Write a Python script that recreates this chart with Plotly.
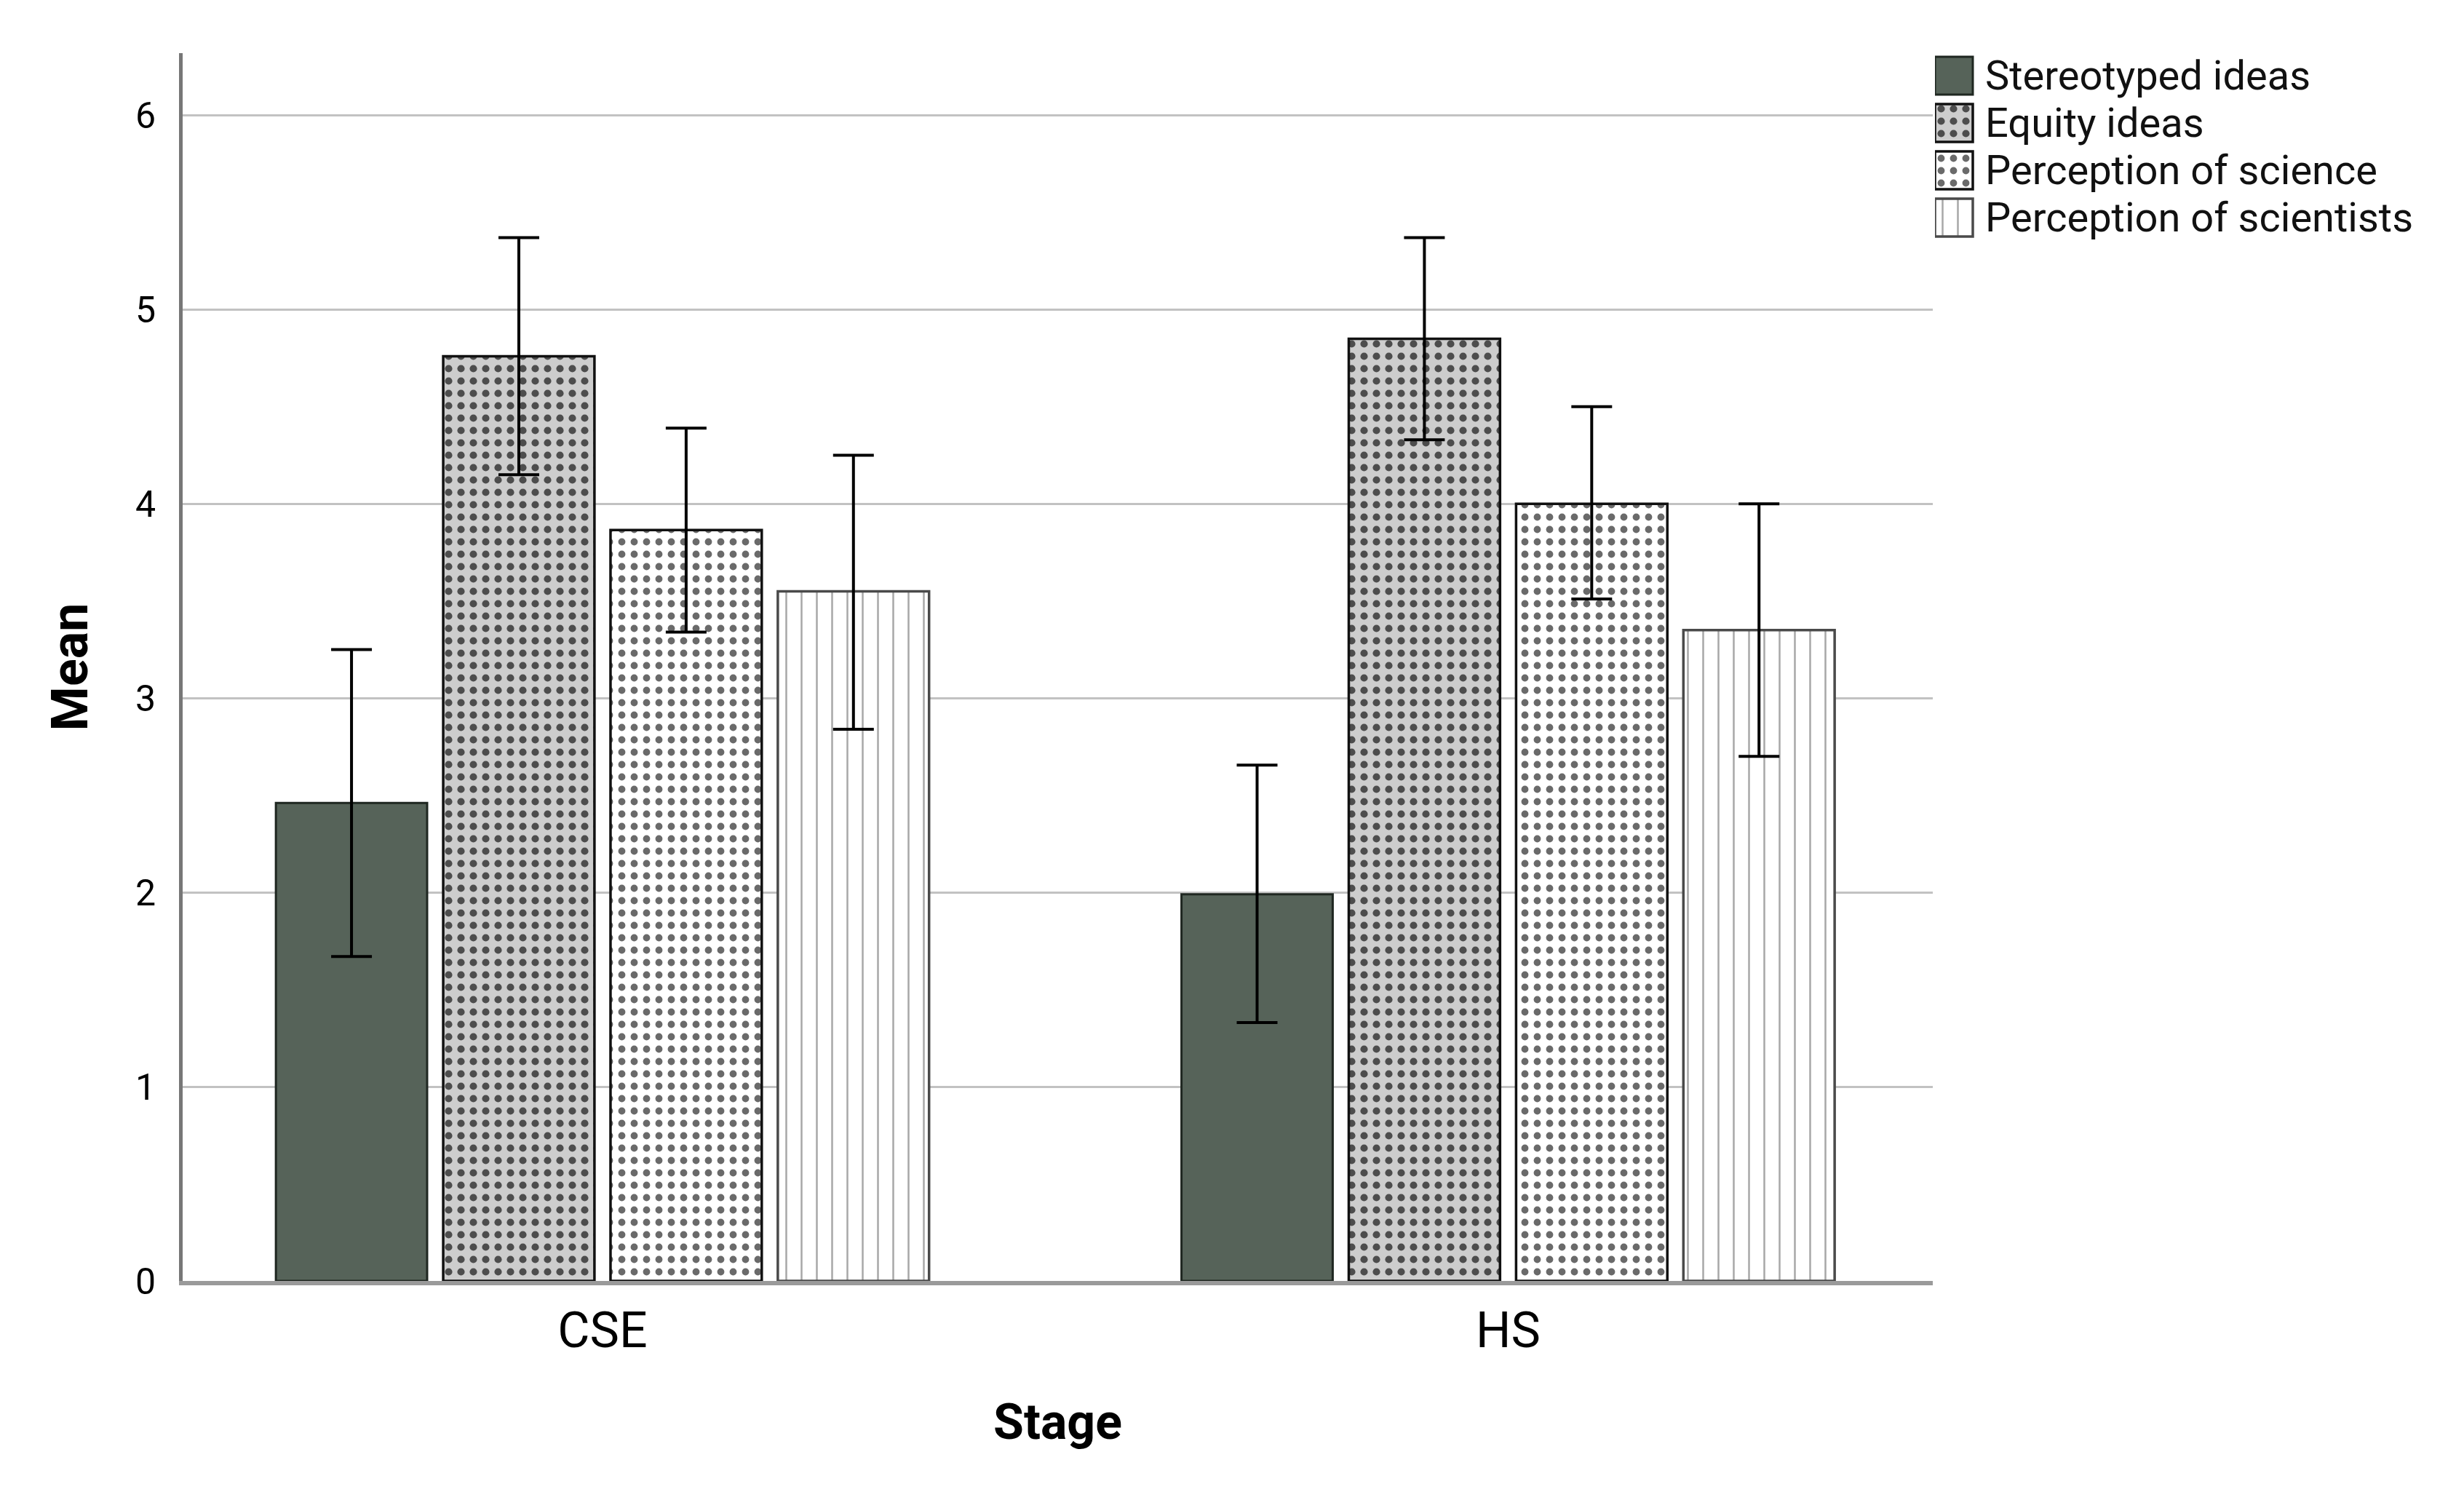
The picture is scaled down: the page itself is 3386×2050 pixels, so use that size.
import plotly.graph_objects as go

# ---------------- data ----------------
stages = ["CSE", "HS"]
series_names = ["Stereotyped ideas", "Equity ideas", "Perception of science", "Perception of scientists"]

stereotyped_mean = [2.46, 1.99]
stereotyped_hi = [3.25, 2.655]
stereotyped_lo = [1.67, 1.33]

equity_mean = [4.76, 4.85]
equity_hi = [5.37, 5.37]
equity_lo = [4.15, 4.33]

science_mean = [3.865, 4.00]
science_hi = [4.39, 4.50]
science_lo = [3.34, 3.51]

scientists_mean = [3.55, 3.35]
scientists_hi = [4.25, 4.00]
scientists_lo = [2.84, 2.70]

y_ticks = [0, 1, 2, 3, 4, 5, 6]

means = [stereotyped_mean, equity_mean, science_mean, scientists_mean]
his = [stereotyped_hi, equity_hi, science_hi, scientists_hi]
los = [stereotyped_lo, equity_lo, science_lo, scientists_lo]

# ---------------- styles ----------------
styles = [
    dict(bg="#566359", fg="#566359", shape="", size=10, solidity=0.1, line="#1f2721", lw=3),
    dict(bg="#cdcdcd", fg="#4d4d4d", shape=".", size=17, solidity=0.28, line="#111111", lw=3.5),
    dict(bg="#ffffff", fg="#6a6a6a", shape=".", size=17, solidity=0.26, line="#111111", lw=3.5),
    dict(bg="#ffffff", fg="#a8a8a8", shape="|", size=21, solidity=0.12, line="#4a4a4a", lw=3.5),
]

W, H = 3386, 2050
ml, mr, mt, mb = 243, 30, 65, 298
plot_right = 2648
pw = W - ml - mr
d1 = (plot_right - ml) / pw
leg_left = 2651
d2 = (leg_left - ml) / pw
sw = 52          # legend swatch size
leg_top = 70
leg_pitch = 65
FONT = "Roboto"


def marker_for(st):
    m = dict(color=st["bg"], line=dict(color=st["line"], width=st["lw"]))
    if st["shape"]:
        m["pattern"] = dict(shape=st["shape"], size=st["size"], solidity=st["solidity"],
                            fgcolor=st["fg"], bgcolor=st["bg"], fillmode="replace")
    return m


fig = go.Figure()
for i, name in enumerate(series_names):
    st = styles[i]
    up = [h - m for h, m in zip(his[i], means[i])]
    dn = [m - l for m, l in zip(means[i], los[i])]
    fig.add_trace(go.Bar(
        name=name, x=stages, y=means[i],
        marker=marker_for(st),
        error_y=dict(type="data", symmetric=False, array=up, arrayminus=dn,
                     color="#000000", thickness=4, width=28),
        showlegend=False,
    ))

# custom legend drawn with bars on a helper axis (pixel units)
for i, name in enumerate(series_names):
    st = styles[i]
    fig.add_trace(go.Bar(
        x=[leg_left + sw / 2], y=[sw], base=[leg_top + leg_pitch * i],
        width=[sw], offset=-sw / 2,
        xaxis="x2", yaxis="y2", marker=marker_for(st),
        showlegend=False, hoverinfo="skip",
    ))
    fig.add_annotation(
        x=leg_left + sw + 15, y=leg_top + leg_pitch * i + sw / 2,
        xref="x2", yref="y2", text=name, showarrow=False,
        xanchor="left", yanchor="middle",
        font=dict(family=FONT, size=56, color="#111111"),
    )

fig.update_layout(
    width=W, height=H,
    margin=dict(l=ml, r=mr, t=mt, b=mb),
    paper_bgcolor="white", plot_bgcolor="white",
    barmode="group", bargap=0.261, bargroupgap=0.096,
    font=dict(family=FONT, color="#000000"),
    showlegend=False,
    xaxis=dict(
        domain=[0, d1], type="category", range=[-0.4636, 1.469],
        showline=True, linecolor="#9a9a9a", linewidth=6,
        showgrid=False, ticks="", tickfont=dict(family=FONT, size=68, color="#000"),
        ticklabelstandoff=3,
        title=dict(text="<b>Stage</b>", font=dict(family=FONT, size=68, color="#000"), standoff=65),
    ),
    yaxis=dict(
        domain=[0, 1], range=[0, 6.32], tickvals=y_ticks,
        showline=True, linecolor="#777777", linewidth=5,
        showgrid=True, gridcolor="#c2c2c2", gridwidth=3, zeroline=False,
        ticks="", tickfont=dict(family=FONT, size=50, color="#000"),
        ticklabelstandoff=22,
        title=dict(text="<b>Mean</b>", font=dict(family=FONT, size=70, color="#000"), standoff=44),
    ),
    xaxis2=dict(domain=[d2, 1], range=[leg_left, W - mr], visible=False, anchor="y2", fixedrange=True),
    yaxis2=dict(domain=[0, 1], range=[H - mb, mt], visible=False, anchor="x2", fixedrange=True),
)

fig.write_html("out.html")
